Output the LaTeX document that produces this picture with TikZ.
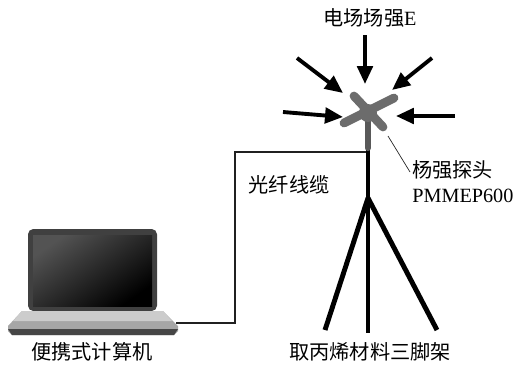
\documentclass[tikz,border=0pt]{standalone}
\usepackage{fontspec}
\setmainfont{Liberation Serif}
\newfontfamily\cjk{Noto Sans CJK SC}
\usetikzlibrary{calc,arrows.meta}

\begin{document}
\begin{tikzpicture}[x=0.02cm,y=-0.02cm,
    lbl/.style={font=\fontsize{11.5}{13.5}\selectfont\cjk,inner sep=0pt},
    field/.style={line width=2.2pt,-{Triangle[length=3.6mm,width=3.1mm]}},
    leg/.style={line width=2.8pt},
    cable/.style={line width=1.4pt,gray!25!black},
    arm/.style={line width=5pt,line cap=round,gray!85!black}]
            \useasboundingbox (0,0) rectangle (528,365);

            \coordinate (probe) at (368,113);
            \coordinate (top) at (368,150);
            \coordinate (apex) at ($(top) + (0,48)$);
            \coordinate (foot) at ($(top) + (0,183)$);
            \coordinate (pc) at (176,323);

            % laptop
            \fill[gray!50!black,rounded corners=3] (28,229) rectangle (157,311);
            \shade[top color=gray!65!black,bottom color=black,shading angle=35]
                (33,235) rectangle (152,306);
            \fill[gray!70] (22,311) -- (163,311) -- (178,326) -- (178,331)
                -- (174,335) -- (12,335) -- (8,331) -- (8,326) -- cycle;
            \fill[gray!40] (22,311) -- (163,311) -- (172,321) -- (13,321) -- cycle;
            \fill[gray!55!black] (8,329) -- (178,329) -- (174,335) -- (12,335) -- cycle;

            % fibre to the probe
            \draw[cable] (pc) -- ++(59,0) |- ($(top) + (0,2)$);

            % tripod
            \draw[leg] (top) -- (foot);
            \draw[leg] (apex) -- ($(apex) + (-43,132)$);
            \draw[leg] (apex) -- ($(apex) + (69,132)$);

            % probe head
            \draw[arm,line width=3.5pt,gray!70!black] (probe) -- ($(probe) + (0,35)$);
            \draw[arm] ($(probe) + (-14,-17)$) -- ($(probe) + (15,14)$);
            \draw[arm] ($(probe) + (26,-15)$) -- ($(probe) + (-24,10)$);
            \fill[gray!85!black] (probe) circle (9);

            % incoming field
            \foreach \a/\b/\c/\d in {365/35/365/84, 297/58/343/93, 432/58/392/90,
                                     283/112/343/117, 455/116/396/116}
                {
                    \draw[field] (\a,\b) -- (\c,\d);
                }

            \node[lbl] (title) at (370,18) {电场场强{\rmfamily E}};
            \node[lbl,anchor=north west,align=left] (plabel) at (412,160)
                {杨强探头\\[1pt]{\rmfamily PMMEP600}};
            \draw[gray!30!black,thin] ($(probe) + (20,23)$) -- ($(plabel.north west) + (-2,12)$);
            \node[lbl] (fibre) at (289,185) {光纤线缆};
            \node[lbl] (laptop) at (92,352) {便携式计算机};
            \node[lbl] (stand) at (370,352) {取丙烯材料三脚架};

        \end{tikzpicture}
\end{document}
